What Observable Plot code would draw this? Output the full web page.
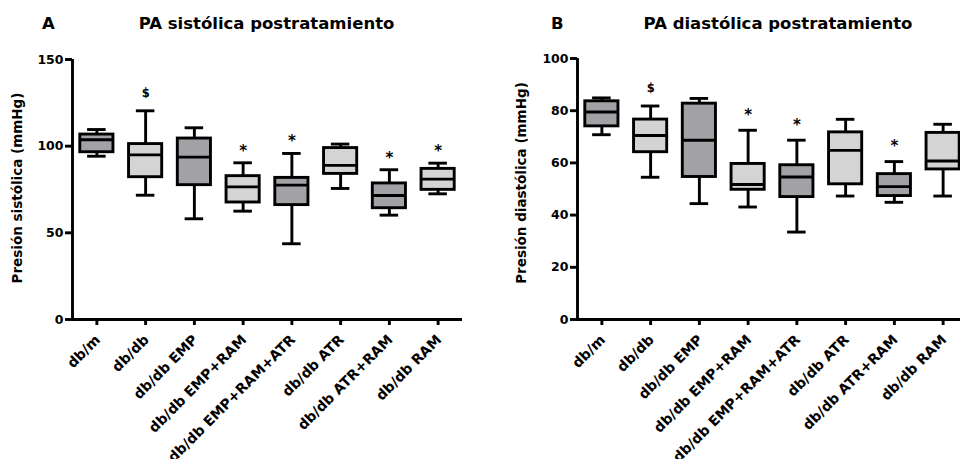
<!DOCTYPE html>
<html><head><meta charset="utf-8">
<script src="https://cdn.jsdelivr.net/npm/d3@7"></script>
<script src="https://cdn.jsdelivr.net/npm/@observablehq/plot@0.6"></script>
<style>
html,body{margin:0;padding:0;background:#fff;width:960px;height:459px;overflow:hidden;}
#wrap{position:relative;width:960px;height:459px;overflow:hidden;font-family:"DejaVu Sans",sans-serif;color:#000;}
.panel{position:absolute;top:0;height:459px;}
.panel svg{max-width:none !important;}
.t{position:absolute;font-weight:bold;font-size:16.5px;white-space:nowrap;line-height:1;}
.yt{position:absolute;font-weight:bold;font-size:13.5px;white-space:nowrap;line-height:1;transform:translate(-50%,-50%) rotate(-90deg);}
</style></head><body>
<div id="wrap">
  <div class="panel" id="pA" style="left:0;width:480px"></div>
  <div class="panel" id="pB" style="left:480px;width:505px"></div>
  <div class="t" style="left:42px;top:16px">A</div>
  <div class="t" style="left:266.5px;top:16px;transform:translateX(-50%)">PA sistólica postratamiento</div>
  <div class="t" style="left:551px;top:16px">B</div>
  <div class="t" style="left:778px;top:16px;transform:translateX(-50%)">PA diastólica postratamiento</div>
  <div class="yt" style="left:18px;top:187.5px">Presión sistólica (mmHg)</div>
  <div class="yt" style="left:521.5px;top:183px">Presión diastólica (mmHg)</div>
</div>
<script>
const categories = ["db/m", "db/db", "db/db EMP", "db/db EMP+RAM", "db/db EMP+RAM+ATR", "db/db ATR", "db/db ATR+RAM", "db/db RAM"];

// Systolic (mmHg)
const sysMin = [94.2, 71.7, 58.1, 62.5, 43.7, 75.6, 60.2, 72.5];
const sysQ1  = [96.5, 82.1, 77.5, 67.5, 66.0, 84.0, 64.2, 74.8];
const sysMed = [103.7, 95.0, 93.7, 76.5, 77.5, 88.9, 71.5, 81.0];
const sysQ3  = [106.7, 101.2, 104.4, 82.7, 81.7, 98.9, 78.5, 86.9];
const sysMax = [109.6, 120.4, 110.6, 90.4, 95.8, 101.2, 86.4, 90.2];
const sysSig = ["", "$", "", "*", "*", "", "*", "*"];
const sysTicks = [0, 50, 100, 150];

// Diastolic (mmHg)
const diaMin = [70.8, 54.5, 44.4, 43.1, 33.5, 47.3, 44.9, 47.3];
const diaQ1  = [74.0, 64.1, 54.6, 49.7, 46.9, 51.8, 47.3, 57.5];
const diaMed = [79.5, 70.5, 68.7, 51.7, 54.6, 64.8, 50.9, 60.7];
const diaQ3  = [83.6, 76.6, 82.7, 59.6, 59.1, 71.7, 55.7, 71.5];
const diaMax = [84.9, 81.8, 84.7, 72.5, 68.7, 76.7, 60.5, 74.8];
const diaSig = ["", "$", "", "*", "*", "", "*", ""];
const diaTicks = [0, 20, 40, 60, 80, 100];

const DARK = "#a2a2a6", LIGHT = "#d4d4d4", SW = 2.9;

function panel(o) {
  const rows = categories.map((c, i) => ({
    i, c, min: o.min[i], q1: o.q1[i], med: o.med[i], q3: o.q3[i], max: o.max[i], sig: o.sig[i]
  }));
  const bw = 0.34, cw = 0.19;
  return Plot.plot({
    width: o.width, height: 459,
    marginLeft: o.marginLeft, marginRight: 18, marginTop: o.marginTop, marginBottom: 140,
    style: {fontFamily: "DejaVu Sans, sans-serif", fontWeight: "bold", color: "#000", background: "transparent", overflow: "visible"},
    x: {domain: [-0.5, 7.5], axis: null},
    y: {domain: o.domain, axis: null},
    color: {type: "identity"},
    marks: [
      Plot.ruleX(rows, {x: "i", y1: "q3", y2: "max", stroke: "#000", strokeWidth: SW}),
      Plot.ruleX(rows, {x: "i", y1: "min", y2: "q1", stroke: "#000", strokeWidth: SW}),
      Plot.ruleY(rows, {y: "max", x1: d => d.i - cw, x2: d => d.i + cw, stroke: "#000", strokeWidth: SW}),
      Plot.ruleY(rows, {y: "min", x1: d => d.i - cw, x2: d => d.i + cw, stroke: "#000", strokeWidth: SW}),
      Plot.rect(rows, {x1: d => d.i - bw, x2: d => d.i + bw, y1: "q1", y2: "q3",
        fill: d => d.i % 2 ? LIGHT : DARK, stroke: "#000", strokeWidth: SW}),
      Plot.ruleY(rows, {y: "med", x1: d => d.i - bw, x2: d => d.i + bw, stroke: "#000", strokeWidth: SW}),
      Plot.text(rows.filter(d => d.sig === "*"), {x: "i", y: "max", text: "sig", dy: o.starDy, fontSize: 15, fontWeight: "bold"}),
      Plot.text(rows.filter(d => d.sig === "$"), {x: "i", y: "max", text: "sig", dy: o.dollarDy, fontSize: 11.5, fontWeight: "bold"}),
      Plot.ruleY([0], {stroke: "#000", strokeWidth: SW}),
      Plot.ruleX([-0.5], {stroke: "#000", strokeWidth: SW}),
      Plot.axisY({ticks: o.ticks, tickSize: 7, tickPadding: 2, strokeWidth: SW, fontSize: 12.5, fontWeight: "bold", label: null}),
      Plot.axisX({ticks: d3.range(8), tickFormat: () => "", tickSize: 6, strokeWidth: SW, label: null}),
      Plot.text(rows, {x: "i", frameAnchor: "bottom", text: "c", rotate: -45, textAnchor: "end", lineAnchor: "middle",
        dx: 1, dy: 18, fontSize: 14, fontWeight: "bold"})
    ]
  });
}

document.getElementById("pA").append(panel({
  width: 480, marginLeft: 72, marginTop: 59, domain: [0, 150], ticks: sysTicks,
  min: sysMin, q1: sysQ1, med: sysMed, q3: sysQ3, max: sysMax, sig: sysSig, starDy: -12, dollarDy: -17
}));
document.getElementById("pB").append(panel({
  width: 505, marginLeft: 97, marginTop: 58, domain: [0, 100], ticks: diaTicks,
  min: diaMin, q1: diaQ1, med: diaMed, q3: diaQ3, max: diaMax, sig: diaSig, starDy: -15, dollarDy: -18
}));
</script>
</body></html>
